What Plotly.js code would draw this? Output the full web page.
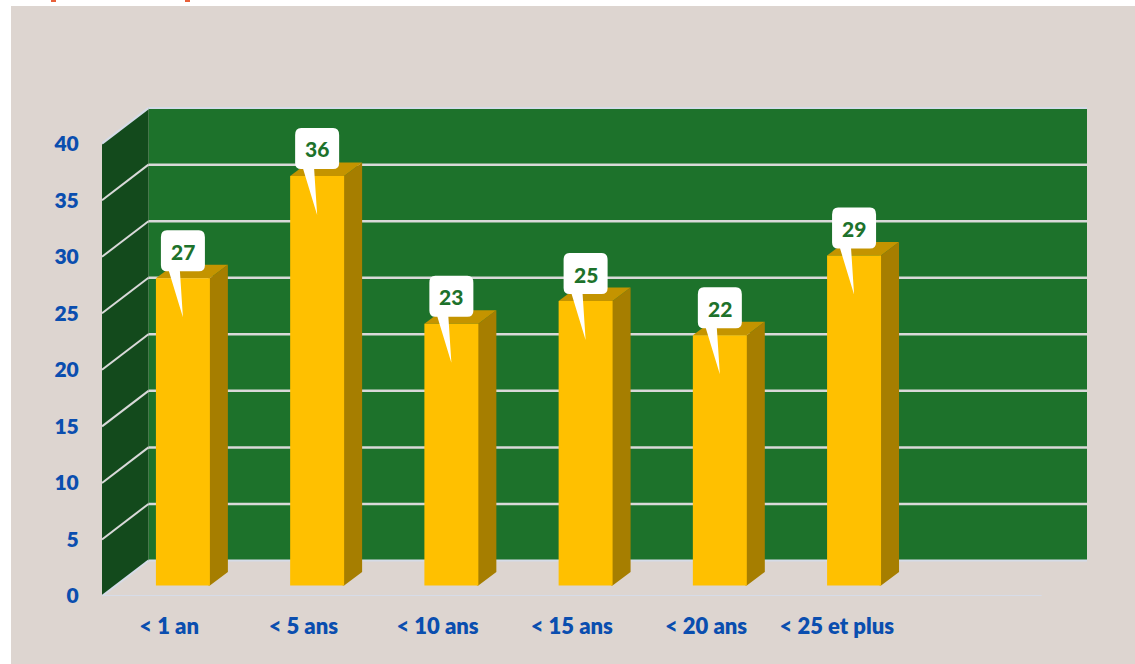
<!DOCTYPE html>
<html><head><meta charset="utf-8">
<script src="https://cdn.plot.ly/plotly-3.0.1.min.js"></script>
<style>
html,body{margin:0;padding:0;background:#fff;overflow:hidden}
#bg{position:absolute;left:11px;top:6px;width:1124px;height:658px;background:#ddd5d0}
.o{position:absolute;top:0;height:2px;width:5px;background:#e8603a}
#chart{position:absolute;left:0;top:0;width:1135px;height:664px}
</style></head><body>
<div id="bg"></div>
<div class="o" style="left:51px"></div><div class="o" style="left:185px"></div>
<div id="chart"></div>
<script>
const categories = ['< 1 an', '< 5 ans', '< 10 ans', '< 15 ans', '< 20 ans', '< 25 et plus'];
const values = [27, 36, 23, 25, 22, 29];
const yTicks = [0, 5, 10, 15, 20, 25, 30, 35, 40];

const pxX = 134.3, pxY = 11.31;
const wallDX = 46.5 / pxX, wallDY = 35.5 / pxY;
const barShift = 13.8 / pxX, barW = 54 / pxX, barBase = 10.5 / pxY, barScale = 1.006;
const barDX = 18 / pxX, barDY = 13.5 / pxY;
const xMin = -0.5, xMax = xMin + 985.5 / pxX, yMax = 496 / pxY;
const green = '#1d722b', darkGreen = '#134a1c', gridCol = '#d9d9d9', blue = '#0a4eaf';

const poly = (pts, fill, layer, line) => ({type: 'path', xref: 'x', yref: 'y', layer: layer || 'below',
  path: 'M' + pts.map(p => p[0] + ',' + p[1]).join(' L') + ' Z', fillcolor: fill,
  line: line || {width: 0}});
const seg = (x0, y0, x1, y1, width, color) => ({type: 'line', xref: 'x', yref: 'y', layer: 'below',
  x0, y0, x1, y1, line: {color: color || gridCol, width: width || 2.5}});

const yTop = yTicks[yTicks.length - 1];
const shapes = [];
// walls
shapes.push(poly([[xMin + wallDX, wallDY], [xMax, wallDY], [xMax, yTop + wallDY], [xMin + wallDX, yTop + wallDY]], green));
shapes.push(poly([[xMin, 0], [xMin + wallDX, wallDY], [xMin + wallDX, yTop + wallDY], [xMin, yTop]], darkGreen));
// grid
yTicks.forEach(t => {
  const c = (t === 0 || t === yTop) ? '#d6dce8' : gridCol;
  shapes.push(seg(xMin, t, xMin + wallDX, t + wallDY, 2, c));
  shapes.push(seg(xMin + wallDX, t + wallDY, xMax, t + wallDY, t === 0 || t === yTop ? 2 : 2.5, c));
});
shapes.push(seg(xMin, 0, xMin + 7, 0, 2, '#d6dce8'));
// 3D faces of the bars and callouts
const overlap = 1.5 / pxX;
const barX = values.map((v, i) => i + barShift);
const barTop = values.map(v => barBase + v * barScale);
values.forEach((v, i) => {
  const l = barX[i] - barW / 2, r = barX[i] + barW / 2, b = barBase, t = barTop[i];
  shapes.push(poly([[r - overlap, b], [r, b], [r + barDX, b + barDY], [r + barDX, t + barDY], [r, t], [r - overlap, t]], '#a67e00'));
  shapes.push(poly([[l, t], [r, t], [r + barDX, t + barDY], [l + barDX, t + barDY]], '#c49400'));
  shapes.push({type: 'path', layer: 'above', xref: 'x', yref: 'y', xsizemode: 'pixel', ysizemode: 'pixel',
    xanchor: barX[i], yanchor: t, fillcolor: '#ffffff', line: {width: 0},
    path: 'M-22,41 Q-22,48 -16,48 L16,48 Q22,48 22,41 L22,13 Q22,7 16,7 L-3,7 L0,-39 L-14,7 L-16,7 Q-22,7 -22,13 Z'});
});
const annotations = values.map((v, i) => ({x: barX[i], y: barTop[i], xref: 'x', yref: 'y', text: String(v),
  showarrow: false, yshift: 27, xanchor: 'center', yanchor: 'middle',
  font: {family: 'Lato', size: 21, color: green, weight: 900}}));

const lastLabelNudge = 3.5 / pxX;
Plotly.newPlot('chart', [{
  type: 'bar', x: barX, y: values.map(v => v * barScale), base: barBase, width: barW,
  marker: {color: '#ffc000', line: {width: 0}}, hoverinfo: 'skip', textposition: 'none'
}], {
  width: 1135, height: 664, margin: {l: 101.5, r: 48, t: 100, b: 68, pad: 0},
  paper_bgcolor: 'rgba(0,0,0,0)', plot_bgcolor: 'rgba(0,0,0,0)', showlegend: false,
  xaxis: {range: [xMin, xMax], tickmode: 'array',
    tickvals: categories.map((c, i) => i === categories.length - 1 ? i - lastLabelNudge : i), ticktext: categories,
    showgrid: false, zeroline: false, showline: false, ticks: 'outside', ticklen: 11, tickcolor: 'rgba(0,0,0,0)',
    tickangle: 0, tickfont: {family: 'Lato', size: 22, color: blue, weight: 800}},
  yaxis: {range: [0, yMax], tickmode: 'array', tickvals: yTicks, showgrid: false, zeroline: false, showline: false,
    ticks: 'outside', ticklen: 18, tickcolor: 'rgba(0,0,0,0)',
    tickfont: {family: 'Lato', size: 21, color: blue, weight: 800}},
  shapes, annotations
}, {displayModeBar: false, staticPlot: true});
</script></body></html>
